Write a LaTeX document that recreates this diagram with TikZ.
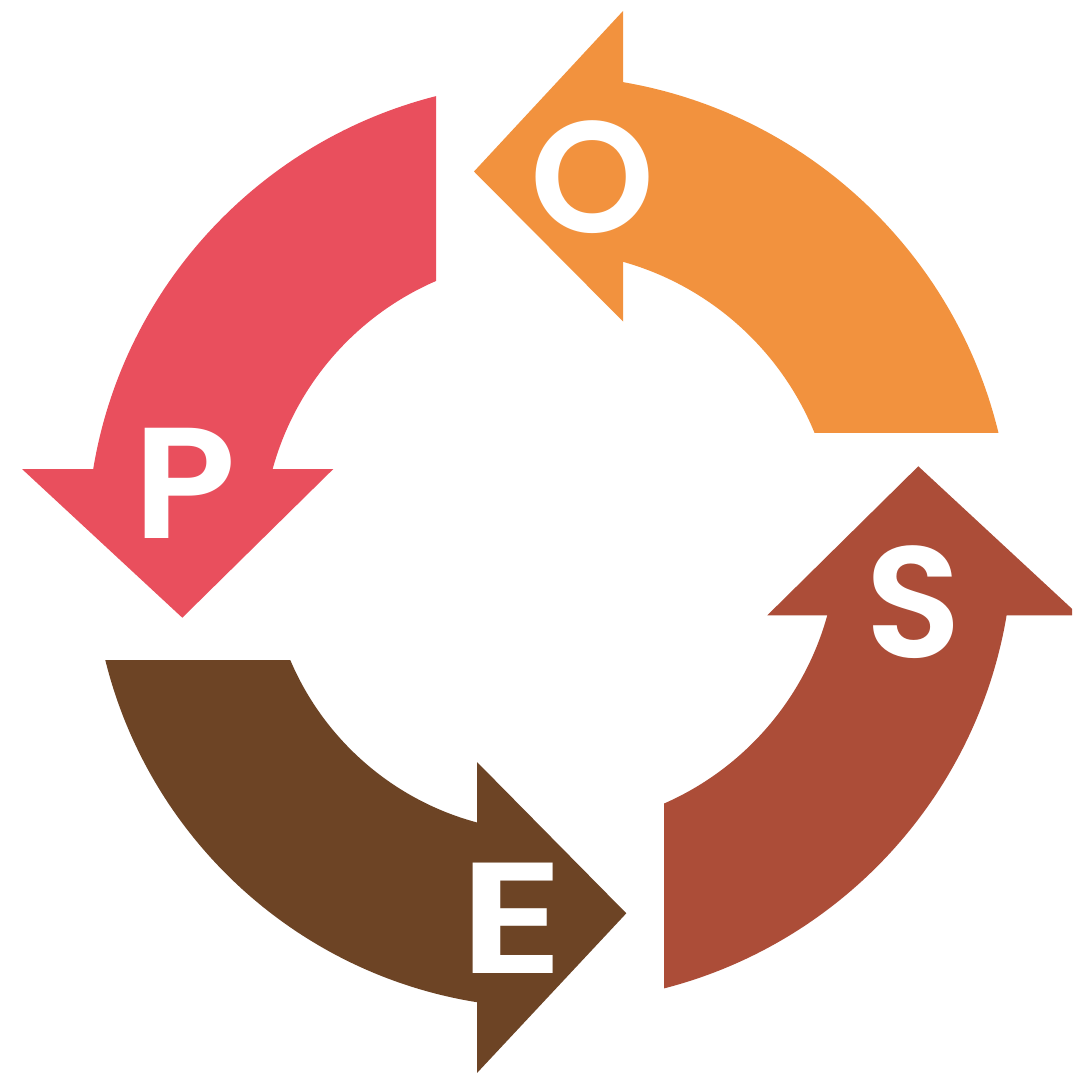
\documentclass[tikz,border=0pt]{standalone}
\usepackage{fontspec}
\setmainfont{Poppins}
\IfFontExistsTF{Poppins SemiBold}
  {\newfontfamily\letterfont{Poppins SemiBold}}
  {\IfFontExistsTF{Poppins Medium}
    {\newfontfamily\letterfont{Poppins Medium}}
    {\newfontfamily\letterfont{Poppins}[UprightFont=*-Bold]}}
\definecolor{cO}{HTML}{F2923E}
\definecolor{cP}{HTML}{E94F5D}
\definecolor{cE}{HTML}{6D4425}
\definecolor{cS}{HTML}{AC4D38}
\tikzset{
  letter/.style={text=white, inner sep=0pt, anchor=base,
    font=\fontsize{158}{158}\letterfont},
  ring/.style={even odd rule}
}
\begin{document}
\begin{tikzpicture}[x=1pt,y=-1pt]
\path[use as bounding box] (0,0) rectangle (1072,1073);
\clip (0,0) rectangle (1072,1073);
\fill[white] (0,0) rectangle (1072,1073);
% O (orange, top, pointing left)
\begin{scope}
  \clip (622,0) rectangle (1072,432);
  \fill[cO, ring] (544,543) circle[radius=467.5] (544,543) circle[radius=292];
\end{scope}
\fill[cO] (623,11) -- (474,171.5) -- (623,321.5) -- cycle;
% P (red, left, pointing down)
\begin{scope}
  \clip (0,0) rectangle (436,470);
  \fill[cP, ring] (550,545) circle[radius=463] (550,545) circle[radius=287.5];
\end{scope}
\fill[cP] (22,469) -- (182.3,617.7) -- (333.3,469) -- cycle;
% E (brown, bottom, pointing right)
\begin{scope}
  \clip (0,660) rectangle (478,1073);
  \fill[cE, ring] (550,550) circle[radius=458] (550,550) circle[radius=282];
\end{scope}
\fill[cE] (477,762) -- (626.3,913.3) -- (477,1073) -- cycle;
% S (rust, right, pointing up)
\begin{scope}
  \clip (664,614) rectangle (1072,1073);
  \fill[cS, ring] (548,538) circle[radius=465] (548,538) circle[radius=289.7];
\end{scope}
\fill[cS] (767.3,615.3) -- (918.3,466.3) -- (1079,615.3) -- cycle;
% letters
\node[letter] (lO) at (592.3,232) {O};
\node[letter, xscale=1.07] (lP) at (184.8,538) {P};
\node[letter, xscale=1.25] (lE) at (511.8,973) {E};
\node[letter] (lS) at (913.3,657) {S};
\end{tikzpicture}
\end{document}
